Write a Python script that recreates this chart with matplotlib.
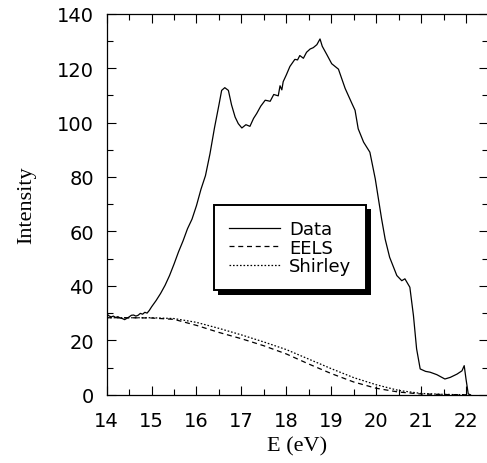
import numpy as np
import matplotlib
matplotlib.use('Agg')
import matplotlib.pyplot as plt
from matplotlib.patches import Rectangle
from matplotlib.ticker import MultipleLocator

# Data curve
e_data = [14.0, 14.05, 14.1, 14.15, 14.2, 14.25, 14.3, 14.35, 14.4, 14.45, 14.5, 14.55,
          14.6, 14.65, 14.7, 14.75, 14.8, 14.85, 14.9, 14.95, 15.0, 15.1, 15.2, 15.3,
          15.4, 15.5, 15.6, 15.7, 15.8, 15.9, 16.0, 16.1, 16.2, 16.3, 16.4, 16.5,
          16.56, 16.63, 16.71, 16.78, 16.86, 16.93, 17.01, 17.1, 17.19, 17.27, 17.34,
          17.43, 17.53, 17.64, 17.72, 17.82, 17.86, 17.9, 17.93, 18.0, 18.08, 18.19,
          18.25, 18.3, 18.38, 18.45, 18.53, 18.6, 18.68, 18.75, 18.8, 18.9, 19.01,
          19.16, 19.31, 19.46, 19.53, 19.6, 19.72, 19.86, 19.98, 20.05, 20.12, 20.2,
          20.3, 20.46, 20.57, 20.64, 20.75, 20.83, 20.9, 20.98, 21.1, 21.2, 21.35,
          21.53, 21.65, 21.8, 21.91, 21.96, 22.0, 22.05, 22.1]
i_data = [29.8, 29.0, 28.6, 28.9, 28.4, 28.7, 28.2, 28.0, 27.6, 28.1, 28.6, 29.2,
          29.3, 28.9, 29.2, 29.9, 29.6, 30.3, 30.0, 31.0, 32.3, 34.6, 37.2, 40.2,
          43.8, 48.0, 52.5, 56.5, 61.0, 64.5, 69.5, 75.5, 80.5, 88.5, 98.0, 106.5,
          111.8, 112.8, 111.8, 106.5, 102.0, 99.6, 98.0, 99.2, 98.6, 101.5, 103.3,
          106.0, 108.2, 107.8, 110.3, 109.8, 113.5, 112.0, 115.0, 117.5, 120.6, 123.2,
          123.0, 124.6, 123.6, 125.8, 127.0, 127.5, 128.6, 130.7, 128.0, 125.0, 121.6,
          119.6, 112.5, 107.0, 104.5, 97.7, 92.8, 89.1, 79.3, 72.0, 64.7, 57.2,
          50.5, 43.8, 41.9, 42.6, 39.5, 29.1, 16.9, 9.5, 8.6, 8.3, 7.4,
          5.8, 6.4, 7.6, 8.8, 10.7, 5.8, 0.3, 0.0]

# EELS background
e_eels = [14.0, 14.5, 15.0, 15.5, 16.0, 16.5, 17.0, 17.5, 18.0, 18.5, 19.0, 19.5,
          20.0, 20.5, 21.0, 21.5, 22.0]
i_eels = [28.3, 28.3, 28.2, 27.7, 25.5, 22.9, 20.6, 18.0, 15.0, 11.3, 7.8, 4.7,
          2.4, 1.0, 0.3, 0.1, 0.0]

# Shirley background
e_shir = [14.0, 14.5, 15.0, 15.5, 16.0, 16.5, 17.0, 17.5, 18.0, 18.5, 19.0, 19.5,
          20.0, 20.5, 21.0, 21.5, 22.0]
i_shir = [28.3, 28.3, 28.3, 28.0, 26.6, 24.4, 22.0, 19.4, 16.6, 13.1, 9.6, 6.3,
          3.7, 1.6, 0.5, 0.15, 0.0]

fig = plt.figure(figsize=(4.87, 4.64), dpi=100)
ax = fig.add_axes([0.219, 0.147, 0.784, 0.8215])

ax.plot(e_data, i_data, color='black', lw=0.9, label='Data')
ax.plot(e_eels, i_eels, color='black', lw=0.9, ls=(0, (4, 3)), label='EELS')
ax.plot(e_shir, i_shir, color='black', lw=0.9, ls=(0, (1.3, 1.5)), label='Shirley')

ax.set_xlim(14, 22.5)
ax.set_ylim(0, 140)
ax.xaxis.set_major_locator(MultipleLocator(1))
ax.xaxis.set_minor_locator(MultipleLocator(0.5))
ax.yaxis.set_major_locator(MultipleLocator(20))
ax.yaxis.set_minor_locator(MultipleLocator(10))
ax.tick_params(which='both', direction='in', top=True, right=True, width=0.8,
               labelsize=14, colors='black')
ax.tick_params(which='major', length=6.5)
ax.tick_params(which='minor', length=4.5)
ax.tick_params(axis='x', which='major', pad=12)
ax.tick_params(axis='y', which='major', pad=9)
ax.spines['right'].set_visible(False)
for s in ['left', 'bottom', 'top']:
    ax.spines[s].set_linewidth(0.9)

ax.set_xlabel('E (eV)', family='Liberation Serif', fontsize=16, labelpad=4)
ax.set_ylabel('Intensity', family='Liberation Serif', fontsize=16, labelpad=15)

leg = ax.legend(loc='upper left', bbox_to_anchor=(0.281, 0.498), borderaxespad=0,
                fontsize=13, handlelength=2.8, handletextpad=0.5, borderpad=0.85,
                labelspacing=0.02, fancybox=False, framealpha=1)
leg.get_frame().set_edgecolor('black')
leg.get_frame().set_linewidth(1.4)

# hard black drop shadow behind the legend box
fig.canvas.draw()
bb = leg.get_window_extent().transformed(ax.transAxes.inverted())
dx = 4.5 / (ax.bbox.width)
dy = 4.5 / (ax.bbox.height)
ax.add_patch(Rectangle((bb.x0 + dx, bb.y0 - dy), bb.width, bb.height,
                       transform=ax.transAxes, facecolor='black', edgecolor='none',
                       zorder=4.9, clip_on=False))

fig.savefig('out.png', dpi=100)
